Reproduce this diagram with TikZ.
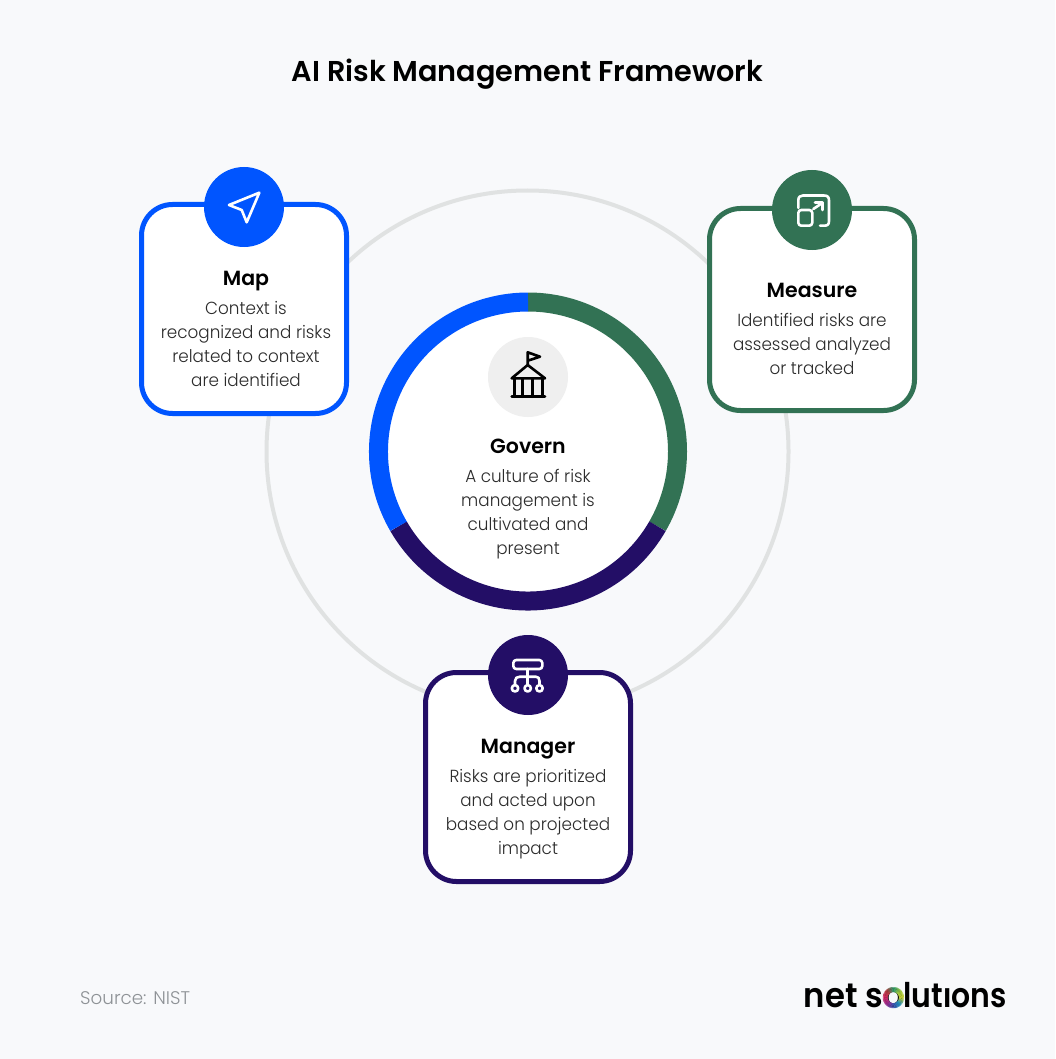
\documentclass[tikz,border=0pt]{standalone}
\usepackage{fontspec}
\setmainfont[FakeStretch=0.96]{Poppins Light}
\newfontfamily\plainfont{Poppins Light}
\newfontfamily\headfont{Poppins SemiBold}
\newfontfamily\logofonta[FakeStretch=0.95]{Poppins SemiBold}
\newfontfamily\logofontb[FakeStretch=0.88]{Poppins SemiBold}
\definecolor{bgc}{HTML}{F8F9FB}
\definecolor{mapblue}{HTML}{0055FF}
\definecolor{measgreen}{HTML}{327254}
\definecolor{mandark}{HTML}{230E66}
\definecolor{ringgray}{HTML}{E0E2E2}
\definecolor{bodytxt}{HTML}{2B2B2B}
\definecolor{badgegray}{HTML}{EFEFEF}
\definecolor{srcgray}{HTML}{8E9296}
\definecolor{lc0}{HTML}{C8D030}
\definecolor{lc1}{HTML}{2090C0}
\definecolor{lc2}{HTML}{4050B0}
\definecolor{lc3}{HTML}{A03090}
\definecolor{lc4}{HTML}{D02860}
\definecolor{lc5}{HTML}{B04040}
\definecolor{lc6}{HTML}{30A070}
\definecolor{lc7}{HTML}{A0C840}
\tikzset{
 x=1pt,y=-1pt,
 card/.style={draw=#1,line width=5pt,fill=white,rounded corners=31pt},
 badge/.style={circle,fill=#1,minimum size=80pt,inner sep=0pt},
 heading/.style={font=\headfont\fontsize{20.5}{26}\selectfont,text=black,inner sep=0pt,anchor=base},
 body/.style={font=\fontsize{17.5}{24}\selectfont,text=bodytxt,align=center,inner sep=0pt,anchor=north},
 iconw/.style={draw=white,line width=2.6pt,line join=round,line cap=round},
 iconk/.style={draw=black,line width=2.6pt,line join=round,line cap=round},
}
\begin{document}
\begin{tikzpicture}
\useasboundingbox (0,0) rectangle (1055,1059);
\fill[bgc] (0,0) rectangle (1055,1059);
\node[heading,font=\headfont\fontsize{28.7}{36}\selectfont] (title) at (527.5,82) {AI Risk Management Framework};
% outer ring
\draw[ringgray,line width=4pt] (527.5,451.5) circle[radius=261];
% donut
\fill[white] (528,451.5) circle[radius=150];
\draw[measgreen,line width=19pt] (528,302) arc[start angle=-90,end angle=30,radius=149.5];
\draw[mandark,line width=19pt] (657.47,526.25) arc[start angle=30,end angle=150,radius=149.5];
\draw[mapblue,line width=19pt] (398.53,526.25) arc[start angle=150,end angle=270,radius=149.5];
% cards
\draw[card=mapblue] (141.5,204.5) rectangle (346.5,413.5);
\draw[card=measgreen] (709.5,208.5) rectangle (914.5,410.5);
\draw[card=mandark] (425.5,672.5) rectangle (630.5,881.5);
% badges
\node[badge=mapblue] (mapbadge) at (244,207) {};
\node[badge=measgreen] (measbadge) at (812,210) {};
\node[badge=mandark] (manbadge) at (528,675) {};
\node[badge=badgegray] (govbadge) at (528,377) {};
% map icon
\draw[iconw] (259.3,192.7) -- (229,205) -- (241.7,210) -- (246.7,222.3) -- cycle;
% measure icon
\draw[iconw] (798.3,208) -- (798.3,200.5) .. controls (798.3,197) and (800,195.5) .. (803,195.5) -- (824,195.5) .. controls (827.5,195.5) and (829,197) .. (829,200.5) -- (829,221) .. controls (829,224.5) and (827.5,225.7) .. (824,225.7) -- (820,225.7);
\draw[iconw,rounded corners=3pt] (798.3,210) rectangle (812.3,225.7);
\draw[iconw] (813.3,209) -- (822.7,202.7);
\draw[iconw] (815,202.7) -- (822.7,202.7) -- (822.7,210);
% govern icon
\draw[iconk] (527.7,365) -- (527.7,352.3) -- (540,356.7) -- (527.7,360.7);
\draw[iconk] (511.7,378.3) -- (527.7,365) -- (545,378.3) -- cycle;
\draw[iconk] (511.7,396.7) -- (545,396.7);
\draw[iconk] (514.3,378.3) -- (514.3,396.7);
\draw[iconk] (522.3,378.3) -- (522.3,396.7);
\draw[iconk] (532.3,378.3) -- (532.3,396.7);
\draw[iconk] (542.3,378.3) -- (542.3,396.7);
% manager icon
\draw[iconw,rounded corners=3pt] (513.3,660) rectangle (542.3,669);
\draw[iconw] (527.7,669) -- (527.7,685);
\draw[iconw] (515,685) -- (515,681) .. controls (515,678) and (517,676.7) .. (520,676.7) -- (535.7,676.7) .. controls (538,676.7) and (539.5,678) .. (539.5,681) -- (539.5,685);
\draw[iconw,fill=mandark] (515,688.3) circle[radius=3.2];
\draw[iconw,fill=mandark] (527.7,688.3) circle[radius=3.2];
\draw[iconw,fill=mandark] (539.5,688.3) circle[radius=3.2];
% texts
\node[heading] (maphead) at (246,285) {Map};
\node[body] (maptext) at (246,301) {Context is\\recognized and risks\\related to context\\are identified};
\node[heading] (meashead) at (812,297) {Measure};
\node[body] (meastext) at (812,313) {Identified risks are\\assessed analyzed\\or tracked};
\node[heading] (govhead) at (528,453) {Govern};
\node[body] (govtext) at (528,469) {A culture of risk\\management is\\cultivated and\\present};
\node[heading] (manhead) at (528,753) {Manager};
\node[body] (mantext) at (528,769) {Risks are prioritized\\and acted upon\\based on projected\\impact};
\node[inner sep=0pt,anchor=base west,text=srcgray,font=\plainfont\fontsize{18.3}{22}\selectfont] (source) at (80,1004) {Source: NIST};
% logo
\node[inner sep=0pt,anchor=base east,text=black,font=\fontsize{34}{40}\selectfont] (logo) at (1007,1007) {\logofonta net so\logofontb lutions};
\fill[bgc] (947.4,983.3) circle[radius=4.4];
\coordinate (ringc) at (893.4,997.6);
\foreach \a/\ca/\cb in {0/lc0/lc1,45/lc1/lc2,90/lc2/lc3,135/lc3/lc4,180/lc4/lc5,225/lc5/lc6,270/lc6/lc7,315/lc7/lc0}{
  \foreach \s in {0,1,2,3,4,5,6,7,8}{
    \pgfmathsetmacro{\st}{\a+5*\s}
    \pgfmathsetmacro{\en}{\st+6}
    \pgfmathtruncatemacro{\mx}{100-100*\s/9}
    \draw[line width=5pt,color=\ca!\mx!\cb] (ringc)+(\st:8.1) arc[start angle=\st,end angle=\en,radius=8.1];
  }
}
\end{tikzpicture}
\end{document}
